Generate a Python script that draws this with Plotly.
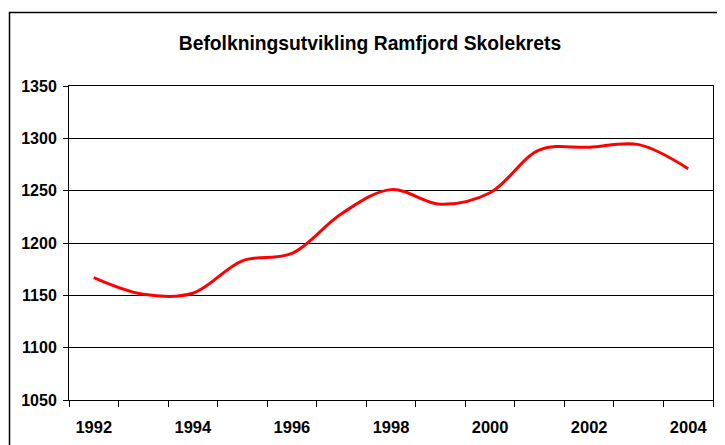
import plotly.graph_objects as go

years = [str(y) for y in range(1992, 2005)]
population = [1167, 1151, 1152, 1183, 1190, 1228, 1251, 1237, 1248, 1289, 1291.5, 1294, 1271]
tick_labels = [y if int(y) % 2 == 0 else "" for y in years]
y_ticks = [1050, 1100, 1150, 1200, 1250, 1300, 1350]
title_text = "Befolkningsutvikling Ramfjord Skolekrets"

FONT = "Liberation Sans, Arial, sans-serif"
# page body has an 8px margin; figure is sized/offset to compensate
OFF = 8
W, H = 725 - OFF, 445 - OFF
PL, PR, PT, PB = 69 - OFF, 713 - OFF, 86 - OFF, 400 - OFF

fig = go.Figure()
fig.add_trace(go.Scatter(
    x=years, y=population, mode="lines",
    line=dict(color="#FF0000", width=3, shape="spline", smoothing=1),
    hoverinfo="x+y", showlegend=False,
))

fig.update_layout(
    width=W, height=H,
    margin=dict(l=PL, r=W - PR, t=PT, b=H - PB, autoexpand=False),
    paper_bgcolor="white", plot_bgcolor="white",
    title=dict(
        text=title_text, xref="container", x=(370 - OFF) / W, xanchor="center",
        yref="container", y=(H - (43 - OFF)) / H, yanchor="middle",
        font=dict(family=FONT, size=19.3, color="black", weight="bold"),
    ),
    xaxis=dict(
        type="category", tickson="boundaries",
        tickmode="array", tickvals=years, ticktext=tick_labels,
        ticks="outside", ticklen=6, tickcolor="black", tickwidth=1,
        showgrid=False, showline=True, linecolor="black", linewidth=1, mirror=True,
        range=[-0.5, 12.5], zeroline=False,
        tickfont=dict(family=FONT, size=16.5, color="black", weight="bold"),
        ticklabelstandoff=12,
    ),
    yaxis=dict(
        range=[1050, 1350], tickmode="array", tickvals=y_ticks,
        ticks="outside", ticklen=5, tickcolor="black", tickwidth=1,
        showgrid=True, gridcolor="black", gridwidth=1,
        showline=True, linecolor="black", linewidth=1, mirror=True, zeroline=False,
        tickfont=dict(family=FONT, size=16, color="black", weight="bold"),
        ticklabelstandoff=3,
    ),
    shapes=[dict(
        type="rect", xref="paper", yref="paper",
        x0=(9.5 - 69) / 644, x1=1.05, y0=-0.25, y1=(400 - 12.5) / 314,
        line=dict(color="black", width=1.5), fillcolor="rgba(0,0,0,0)", layer="below",
    )],
)

fig.write_html("out.html")
